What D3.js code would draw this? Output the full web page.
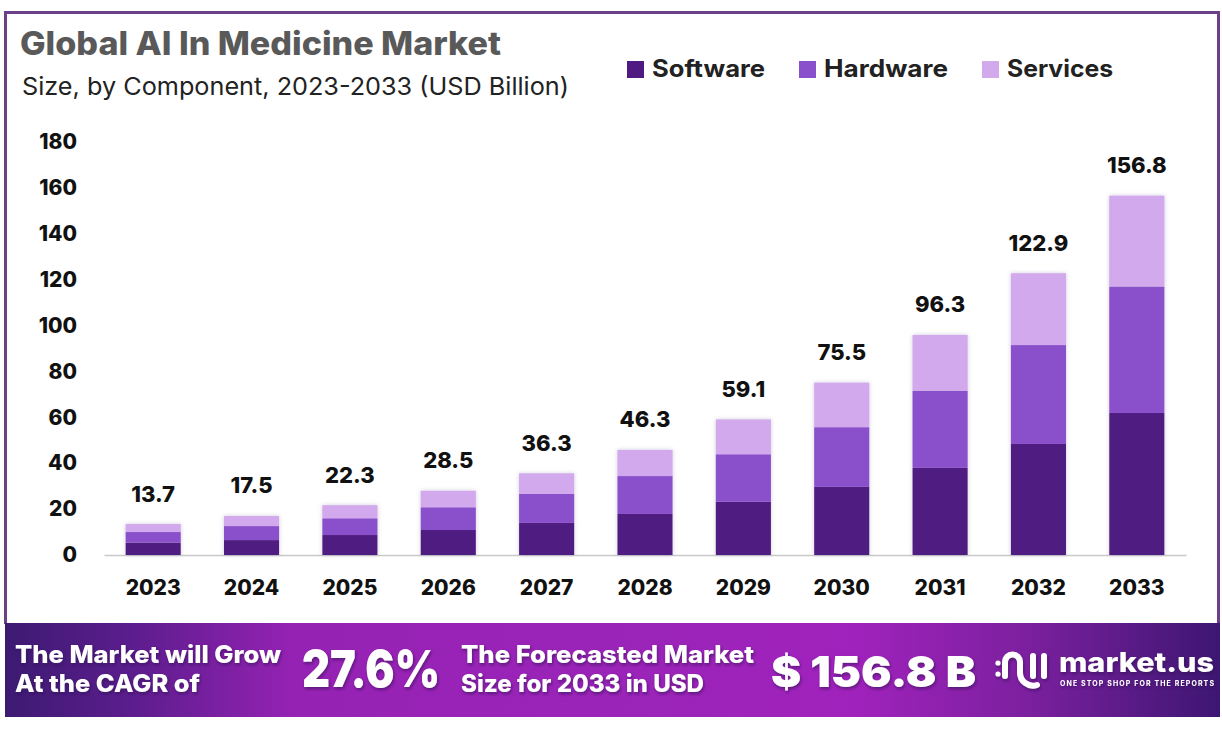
<!DOCTYPE html>
<html>
<head>
<meta charset="utf-8">
<script src="https://cdn.jsdelivr.net/npm/d3@7"></script>
<style>
  body { margin: 0; background: #fff; }
  text { font-family: Inter, "Noto Sans", sans-serif; }
</style>
</head>
<body>
<div id="chart"></div>
<script>
const years = [2023, 2024, 2025, 2026, 2027, 2028, 2029, 2030, 2031, 2032, 2033];
const software = [5.4, 6.5, 8.7, 10.9, 14.0, 17.9, 23.2, 29.7, 38.0, 48.4, 61.9];
const hardware = [4.6, 6.1, 7.3, 9.9, 12.6, 16.5, 20.7, 26.0, 33.6, 43.1, 55.1];
const services = [3.5, 4.4, 5.7, 7.2, 9.0, 11.4, 15.2, 19.4, 24.3, 31.3, 39.6];
const totals = [13.7, 17.5, 22.3, 28.5, 36.3, 46.3, 59.1, 75.5, 96.3, 122.9, 156.8];
const yTicks = [0, 20, 40, 60, 80, 100, 120, 140, 160, 180];
const seriesNames = ['Software', 'Hardware', 'Services'];
const seriesColors = ['#4f1a82', '#8a4fcb', '#d1a9ec'];

const width = 1222, height = 731;
const svg = d3.select('#chart').append('svg')
  .attr('width', width).attr('height', height)
  .style('display', 'block');

const defs = svg.append('defs');
const grad = defs.append('linearGradient').attr('id', 'bannerGrad');
[[0, '#3d1a72'], [0.1, '#5a1d8c'], [0.24, '#9622b4'], [0.5, '#9a24b8'], [0.7, '#a022bc'], [0.84, '#7c209f'], [1, '#3d1672']]
  .forEach(d => grad.append('stop').attr('offset', d[0]).attr('stop-color', d[1]));

const shadow = defs.append('filter').attr('id', 'textShadow')
  .attr('x', '-10%').attr('y', '-20%').attr('width', '120%').attr('height', '150%');
shadow.append('feDropShadow').attr('dx', 1).attr('dy', 2).attr('stdDeviation', 1.5)
  .attr('flood-color', '#2a0a50').attr('flood-opacity', 0.6);

const barShadow = defs.append('filter').attr('id', 'barShadow')
  .attr('x', '-15%').attr('y', '-5%').attr('width', '130%').attr('height', '110%');
barShadow.append('feDropShadow').attr('dx', 0).attr('dy', 0).attr('stdDeviation', 2)
  .attr('flood-color', '#7a6a9a').attr('flood-opacity', 0.35);

// frame
svg.append('path')
  .attr('d', 'M5.5,624V12.5H1218.5V624')
  .attr('fill', 'none').attr('stroke', '#6d3f86').attr('stroke-width', 3);

// scales
const x = d3.scaleBand().domain(years).range([104, 1186]).paddingInner(0.44).paddingOuter(0.22);
const y = d3.scaleLinear().domain([0, 180]).range([555, 142]);

// axes
svg.append('g')
  .attr('transform', 'translate(104,0)')
  .call(d3.axisLeft(y).tickValues(yTicks).tickSize(0).tickPadding(27))
  .call(g => g.select('.domain').remove())
  .selectAll('text')
  .attr('font-size', 21).attr('font-weight', 800).attr('fill', '#111')
  .style('font-family', 'Inter');

svg.append('g')
  .attr('transform', 'translate(0,555)')
  .call(d3.axisBottom(x).tickFormat(d3.format('d')).tickSize(0).tickPadding(25))
  .call(g => g.select('.domain').attr('stroke', '#c9c9c9').attr('stroke-width', 1.5))
  .selectAll('text')
  .attr('font-size', 21).attr('font-weight', 800).attr('fill', '#111')
  .style('font-family', 'Inter');

// stacked bars
const rows = years.map((yr, i) => ({ year: yr, Software: software[i], Hardware: hardware[i], Services: services[i] }));
const stack = d3.stack().keys(seriesNames)(rows);

svg.append('g').attr('filter', 'url(#barShadow)')
  .selectAll('g').data(stack).join('g')
  .attr('fill', (d, i) => seriesColors[i])
  .selectAll('rect').data(d => d).join('rect')
  .attr('x', d => x(d.data.year))
  .attr('y', d => y(d[1]))
  .attr('width', x.bandwidth())
  .attr('height', d => y(d[0]) - y(d[1]));

// totals above bars, placed from the top of the stack
svg.append('g').selectAll('text').data(stack[2]).join('text')
  .attr('x', d => x(d.data.year) + x.bandwidth() / 2)
  .attr('y', d => y(d[1]) - 22.5)
  .attr('text-anchor', 'middle')
  .attr('font-size', 22).attr('font-weight', 800).attr('fill', '#111')
  .text((d, i) => totals[i].toFixed(1));

// title
svg.append('text').attr('x', 20).attr('y', 55)
  .attr('font-size', 32).attr('font-weight', 800).attr('fill', '#595959')
  .attr('textLength', 481).attr('lengthAdjust', 'spacingAndGlyphs')
  .text('Global AI In Medicine Market');
svg.append('text').attr('x', 22).attr('y', 95)
  .attr('font-size', 24.5).attr('font-weight', 400).attr('fill', '#222')
  .attr('textLength', 547).attr('lengthAdjust', 'spacingAndGlyphs')
  .text('Size, by Component, 2023-2033 (USD Billion)');

// legend
const legendX = [627, 799, 982];
const legendW = [113, 124, 106];
const legend = svg.append('g').selectAll('g').data(seriesNames).join('g')
  .attr('transform', (d, i) => `translate(${legendX[i]},61)`);
legend.append('rect').attr('width', 17).attr('height', 17)
  .attr('fill', (d, i) => seriesColors[i]);
legend.append('text').attr('x', 25).attr('y', 16)
  .attr('font-size', 24).attr('font-weight', 700).attr('fill', '#222')
  .attr('textLength', (d, i) => legendW[i]).attr('lengthAdjust', 'spacingAndGlyphs')
  .text(d => d);

// banner
const banner = svg.append('g');
banner.append('rect').attr('x', 5).attr('y', 623).attr('width', 1215).attr('height', 94)
  .attr('fill', 'url(#bannerGrad)');

const bannerText = banner.append('g').attr('fill', '#fff').attr('filter', 'url(#textShadow)');
function addText(txt, xPos, yPos, size, w, weight) {
  bannerText.append('text').attr('x', xPos).attr('y', yPos)
    .attr('font-size', size).attr('font-weight', weight)
    .attr('textLength', w).attr('lengthAdjust', 'spacingAndGlyphs')
    .text(txt);
}
addText('The Market will Grow', 15, 663, 24, 266, 800);
addText('At the CAGR of', 15, 692, 24, 185, 800);
addText('27.6%', 302, 687, 51, 138, 900);
addText('The Forecasted Market', 461, 663, 24, 293, 800);
addText('Size for 2033 in USD', 461, 692, 24, 243, 800);
addText('$ 156.8 B', 771, 687, 43, 205, 900);

// logo
const logo = bannerText.append('g').attr('fill', 'none').attr('stroke', '#fff')
  .attr('stroke-width', 6).attr('stroke-linecap', 'round');
logo.append('path').attr('d', 'M1005,676V662A7.5,7.5 0 0 1 1020,662V672A13,13 0 0 0 1037,685');
logo.append('path').attr('d', 'M1033,656V676');
logo.append('path').attr('d', 'M1044,656V676');
bannerText.append('circle').attr('cx', 998).attr('cy', 663).attr('r', 2.6);
bannerText.append('circle').attr('cx', 998).attr('cy', 674).attr('r', 2.6);
bannerText.append('text').attr('x', 1059).attr('y', 672)
  .attr('font-size', 27).attr('font-weight', 800)
  .attr('textLength', 155).attr('lengthAdjust', 'spacingAndGlyphs')
  .text('market.us');
bannerText.append('text').attr('x', 1060).attr('y', 686)
  .attr('font-size', 7).attr('font-weight', 700)
  .attr('textLength', 154).attr('lengthAdjust', 'spacing')
  .text('ONE STOP SHOP FOR THE REPORTS');
</script>
</body>
</html>
